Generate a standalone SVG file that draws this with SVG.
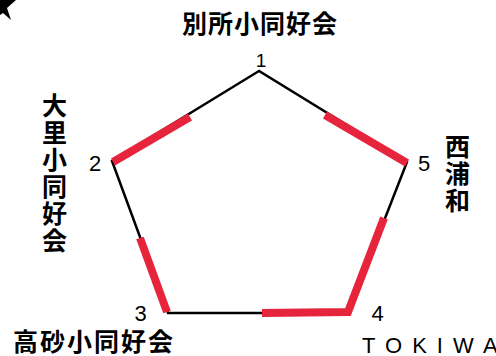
<svg xmlns="http://www.w3.org/2000/svg" width="496" height="356" viewBox="0 0 496 356">
<style>
.edge{fill:none;stroke:#000;stroke-width:2.5;stroke-linejoin:miter}
.hl{fill:none;stroke:#e6243c;stroke-width:8;stroke-linecap:butt;stroke-linejoin:miter}
.num{font-family:"Liberation Sans",Arial,sans-serif;font-size:22px;fill:#000;text-anchor:middle}
.jp{font-family:"Noto Sans CJK JP","Noto Sans CJK SC",sans-serif;font-weight:bold;font-size:25px;fill:#000}
.en{font-family:"Liberation Sans",Arial,sans-serif;font-size:22px;fill:#000;letter-spacing:10px}
</style>
<rect width="496" height="356" fill="#fff"/>
<polygon points="0,0 16,0 7,8 11,20 3,13 0,15" fill="#000"/>
<g id="connectors">
<polygon class="edge" points="259,71 112,161 168,313 348,313 407,162"/>
<line class="hl" x1="113" y1="162" x2="190" y2="117"/>
<line class="hl" x1="407" y1="163" x2="325" y2="115"/>
<line class="hl" x1="140" y1="238" x2="167" y2="312"/>
<polyline class="hl" points="262,313 348,312 384,218"/>
</g>
<g id="node1">
<text class="num" x="261" y="67" style="font-size:19px">1</text>
<text class="jp" x="260" y="33" text-anchor="middle" letter-spacing="1">別所小同好会</text>
</g>
<g id="node2">
<text class="num" x="95" y="171">2</text>
<text class="jp" x="54.5" text-anchor="middle"><tspan x="54.5" y="115">大</tspan><tspan x="54.5" y="142">里</tspan><tspan x="54.5" y="169">小</tspan><tspan x="54.5" y="196">同</tspan><tspan x="54.5" y="223">好</tspan><tspan x="54.5" y="250">会</tspan></text>
</g>
<g id="node3">
<text class="num" x="140.5" y="321">3</text>
<text class="jp" x="13" y="351" letter-spacing="2">高砂小同好会</text>
</g>
<g id="node4">
<text class="num" x="377.5" y="321">4</text>
<text class="en" x="362" y="353">TOKIWA</text>
</g>
<g id="node5">
<text class="num" x="424" y="171">5</text>
<text class="jp" x="457.5" text-anchor="middle"><tspan x="457.5" y="156">西</tspan><tspan x="457.5" y="183">浦</tspan><tspan x="457.5" y="210">和</tspan></text>
</g>
</svg>
